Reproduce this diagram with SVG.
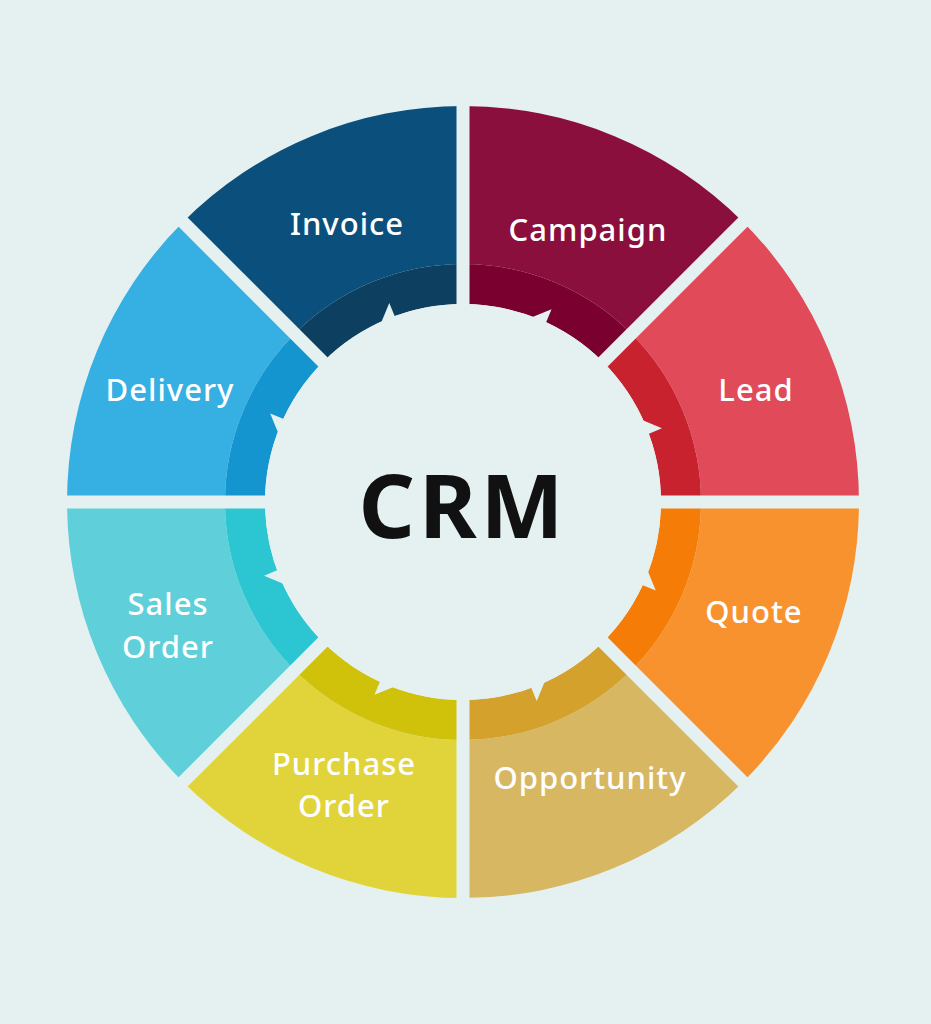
<svg xmlns="http://www.w3.org/2000/svg" xmlns:xlink="http://www.w3.org/1999/xlink" width="931" height="1024" viewBox="0 0 931 1024">
<defs>
<style>
.lbl{font-family:"Noto Sans","Liberation Sans",sans-serif;font-size:31px;font-weight:500;fill:#fff;text-anchor:middle;letter-spacing:1px}
.crm{font-family:"Noto Sans","Liberation Sans",sans-serif;font-size:88px;font-weight:bold;fill:#111;text-anchor:middle;letter-spacing:4px}
</style>
<path id="outer" d="M0,-396 A396,396 0 0 1 280,-280 L168.3,-168.3 A238,238 0 0 0 0,-238 Z"/>
<path id="inner" d="M0,-238 A238,238 0 0 1 168.3,-168.3 L140,-140 A198,198 0 0 0 0,-198 Z"/>
<line id="gap" x1="0" y1="0" x2="0" y2="-420" stroke="#e4f1f0" stroke-width="13"/>
<polygon id="tooth" points="196,-8 196,8 212,8" fill="#e4f1f0"/>
</defs>
<rect width="931" height="1024" fill="#e4f1f0"/>
<g transform="translate(463,502)">
<g id="campaign"><use xlink:href="#outer" fill="#8b0f3c"/><use xlink:href="#inner" fill="#7a0030"/></g>
<g id="lead" transform="rotate(45)"><use xlink:href="#outer" fill="#e14a59"/><use xlink:href="#inner" fill="#c9222f"/></g>
<g id="quote" transform="rotate(90)"><use xlink:href="#outer" fill="#f8922e"/><use xlink:href="#inner" fill="#f57c06"/></g>
<g id="opportunity" transform="rotate(135)"><use xlink:href="#outer" fill="#d7b762"/><use xlink:href="#inner" fill="#d4a22c"/></g>
<g id="purchase" transform="rotate(180)"><use xlink:href="#outer" fill="#e1d43a"/><use xlink:href="#inner" fill="#d0c10b"/></g>
<g id="sales" transform="rotate(225)"><use xlink:href="#outer" fill="#5fcfd9"/><use xlink:href="#inner" fill="#2cc5d2"/></g>
<g id="delivery" transform="rotate(270)"><use xlink:href="#outer" fill="#36b0e3"/><use xlink:href="#inner" fill="#1495d0"/></g>
<g id="invoice" transform="rotate(315)"><use xlink:href="#outer" fill="#0b4f7c"/><use xlink:href="#inner" fill="#0d3f60"/></g>
<g id="connectors">
<use xlink:href="#gap"/><use xlink:href="#gap" transform="rotate(45)"/><use xlink:href="#gap" transform="rotate(90)"/><use xlink:href="#gap" transform="rotate(135)"/><use xlink:href="#gap" transform="rotate(180)"/><use xlink:href="#gap" transform="rotate(225)"/><use xlink:href="#gap" transform="rotate(270)"/><use xlink:href="#gap" transform="rotate(315)"/>
</g>
<circle r="198" fill="#e4f1f0"/>
<use xlink:href="#tooth" transform="rotate(-112.5)"/><use xlink:href="#tooth" transform="rotate(-67.5)"/><use xlink:href="#tooth" transform="rotate(-22.5)"/><use xlink:href="#tooth" transform="rotate(22.5)"/><use xlink:href="#tooth" transform="rotate(67.5)"/><use xlink:href="#tooth" transform="rotate(112.5)"/><use xlink:href="#tooth" transform="rotate(157.5)"/><use xlink:href="#tooth" transform="rotate(202.5)"/>
</g>
<text class="lbl" x="347" y="235">Invoice</text>
<text class="lbl" x="588" y="241">Campaign</text>
<text class="lbl" x="756" y="401">Lead</text>
<text class="lbl" x="170" y="401">Delivery</text>
<text class="lbl" x="168" y="615">Sales</text>
<text class="lbl" x="168" y="658">Order</text>
<text class="lbl" x="754" y="623">Quote</text>
<text class="lbl" x="344" y="775">Purchase</text>
<text class="lbl" x="344" y="817">Order</text>
<text class="lbl" x="590" y="789">Opportunity</text>
<text class="crm" x="463" y="538">CRM</text>
</svg>
